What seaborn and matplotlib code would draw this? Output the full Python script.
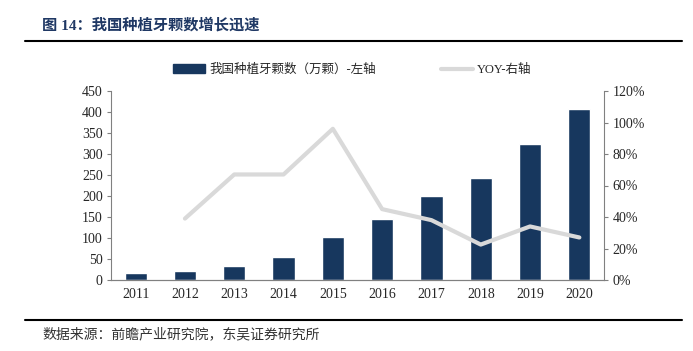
import matplotlib
matplotlib.use("Agg")
import matplotlib.pyplot as plt
import seaborn as sns
import pandas as pd
from matplotlib.ticker import FuncFormatter
from matplotlib.lines import Line2D

sns.set_theme(style="white")
plt.rcParams['font.family'] = ['Liberation Serif', 'Noto Sans CJK SC']
plt.rcParams['axes.unicode_minus'] = False

# 数据
years = ['2011', '2012', '2013', '2014', '2015', '2016', '2017', '2018', '2019', '2020']
implants = [17, 22, 34, 54, 102, 146, 200, 243, 324, 407]
yoy = [None, 0.39, 0.67, 0.67, 0.96, 0.45, 0.38, 0.225, 0.34, 0.27]

bar_label = '我国种植牙颗数（万颗）-左轴'
line_label = 'YOY-右轴'
bar_color = '#17375E'
line_color = '#D9D9D9'
spine_color = '#808080'

df = pd.DataFrame({'year': years, 'implants': implants, 'yoy': yoy})

fig = plt.figure(figsize=(6.93, 3.51), dpi=100)
ax1 = fig.add_axes([111 / 693, 1 - 280 / 351, (604 - 111) / 693, (280 - 91) / 351])

sns.barplot(data=df, x='year', y='implants', color=bar_color, ax=ax1,
            width=0.45, saturation=1, legend=False)
ax1.set_ylim(0, 450)
ax1.set_yticks(range(0, 451, 50))
ax1.set_xlabel('')
ax1.set_ylabel('')
ax1.set_xlim(-0.5, len(years) - 0.5)

ax2 = ax1.twinx()
ax2.plot(range(len(years)), df['yoy'], color=line_color, linewidth=3)
ax2.set_ylim(0, 1.2)
ax2.set_yticks([0, 0.2, 0.4, 0.6, 0.8, 1.0, 1.2])
ax2.yaxis.set_major_formatter(FuncFormatter(lambda v, p: f'{v:.0%}'))

for ax in (ax1, ax2):
    for s in ax.spines.values():
        s.set_color(spine_color)
        s.set_linewidth(0.8)
    ax.spines['top'].set_visible(False)
    ax.tick_params(axis='y', which='major', length=3, width=0.8, color=spine_color,
                   labelsize=10, pad=3, direction='out')
    ax.grid(False)
ax1.spines['right'].set_visible(False)
ax2.spines['left'].set_visible(False)
ax1.tick_params(axis='x', length=0, labelsize=10, pad=6)
ax1.tick_params(axis='y', left=True)
ax2.tick_params(axis='y', right=True)

# 图例
handles = [plt.Rectangle((0, 0), 1, 1, color=bar_color),
           Line2D([0], [0], color=line_color, linewidth=3)]
fig.legend(handles, [bar_label, line_label], loc='center',
           bbox_to_anchor=(352 / 693, 1 - 70 / 351),
           ncol=2, frameon=False, fontsize=9, columnspacing=5.2, handlelength=2.6,
           handletextpad=0.3)

# 标题与来源
fig.text(42 / 693, 1 - 25 / 351, '图 14：我国种植牙颗数增长迅速', fontsize=11, fontweight='bold',
         color='#1F3864', va='center', ha='left')
fig.add_artist(Line2D([25 / 693, 682 / 693], [1 - 41 / 351, 1 - 41 / 351], color='black', linewidth=1.5))
fig.add_artist(Line2D([25 / 693, 682 / 693], [1 - 320 / 351, 1 - 320 / 351], color='black', linewidth=1.5))
fig.text(42 / 693, 1 - 334 / 351, '数据来源：前瞻产业研究院，东吴证券研究所', fontsize=10,
         color='#333333', va='center', ha='left')

fig.savefig('out.png', dpi=100)
